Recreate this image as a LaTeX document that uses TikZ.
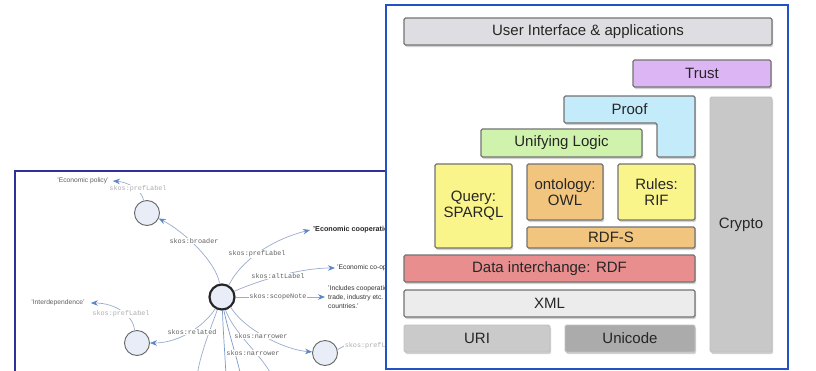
\documentclass[tikz,border=0pt]{standalone}
\usepackage{fontspec}
\setmainfont{Liberation Sans}
\setmonofont{Liberation Mono}
\usetikzlibrary{arrows.meta,shadows}

% palette
\definecolor{panelA}{HTML}{30309A}
\definecolor{panelB}{HTML}{2352C4}
\definecolor{edgecol}{HTML}{9AACCC}
\definecolor{edgeblue}{HTML}{7E9ACB}
\definecolor{tipcol}{HTML}{5B87C9}
\definecolor{nodefill}{HTML}{E8EDF8}
\definecolor{lblcol}{HTML}{606060}
\definecolor{lbllight}{HTML}{ADADAD}
\definecolor{txtcol}{HTML}{262626}
\definecolor{uicol}{HTML}{DEDDE2}
\definecolor{trustcol}{HTML}{DCB6F4}
\definecolor{proofcol}{HTML}{C3EBFA}
\definecolor{logiccol}{HTML}{CFF3AD}
\definecolor{yellowcol}{HTML}{FAF58A}
\definecolor{orangecol}{HTML}{F2C57E}
\definecolor{rdfcol}{HTML}{E88E8E}
\definecolor{xmlcol}{HTML}{ECECEC}
\definecolor{uricol}{HTML}{CACACA}
\definecolor{unicol}{HTML}{ABABAB}
\definecolor{cryptocol}{HTML}{C8C8C8}

\tikzset{
  concept/.style={circle, minimum size=25pt, inner sep=0pt, fill=nodefill, draw=black!60, line width=0.9pt},
  focus/.style={concept, draw=black!85, line width=2.2pt},
  edge/.style={draw=edgecol, line width=0.7pt},
  arr/.style={edge, -{Stealth[length=7pt,width=5.5pt,color=tipcol]}},
  rel/.style={font=\ttfamily\fontsize{6.8}{7}\selectfont, text=lblcol, fill=white, inner sep=0.6pt},
  rellight/.style={rel, text=lbllight},
  lit/.style={font=\fontsize{6.7}{8}\selectfont, text=lblcol, inner sep=0pt},
  layer/.style={draw=black!55, line width=1.2pt, rounded corners=1.5pt, text=txtcol,
    font=\fontsize{15}{16}\selectfont, align=center, inner sep=0pt,
    drop shadow={shadow xshift=1.2pt, shadow yshift=-2pt, opacity=.35}},
  softlayer/.style={layer, draw=black!25, line width=0.8pt}
}

\begin{document}
\begin{tikzpicture}[x=1pt,y=-1pt]
\useasboundingbox (0,0) rectangle (816,370);

% ---------------- SKOS concept graph ----------------
\begin{scope}
\clip (0,0) rectangle (816,370);
\fill[white] (15,171) rectangle (600,400);

\node[focus]   (c)  at (222,297) {};
\node[concept] (p1) at (147,213) {};
\node[concept] (p2) at (137,343) {};
\node[concept] (p3) at (325,353) {};

\node[lit] (t0) at (83,181) {'Economic policy'};
\node[lit] (t4) at (58,303) {'Interdependence'};
\node[lit, anchor=west, font=\bfseries\fontsize{7.2}{8}\selectfont, text=black!85] (t1) at (313,230) {'Economic cooperation'};
\node[lit, anchor=west, text=black!80] (t2) at (337,268) {'Economic co-operation'};
\node[lit, anchor=west, align=left, text=black!80, font=\fontsize{6.7}{9}\selectfont] (t3) at (328,297) {'Includes cooperation in\\trade, industry etc. between\\countries.'};

\coordinate (d1) at (197,376);
\coordinate (d2) at (226,376);
\coordinate (d3) at (241,376);
\coordinate (d4) at (272,376);

% connectors
\draw[arr] (c.100) .. controls (216,262) and (185,232) .. (p1.-25);
\draw[arr] (c.60) .. controls (240,262) and (270,240) .. ([xshift=-3pt]t1.west);
\draw[arr] (c.25) .. controls (260,280) and (300,268) .. ([xshift=-2pt]t2.west);
\draw[arr] (c.east) -- ([xshift=-3pt]t3.west);
\draw[arr] (c.240) .. controls (205,325) and (180,343) .. (p2.east);
\draw[arr] (c.-50) .. controls (245,330) and (285,350) .. (p3.175);
\draw[arr] (p1.105) .. controls (142,190) and (128,182) .. ([xshift=4pt]t0.east);
\draw[arr] (p2.100) .. controls (133,315) and (115,303) .. ([xshift=6pt]t4.east);
\draw[edge] (c.-75) .. controls (235,335) and (262,355) .. (d4);
\draw[edge] (c.-110) .. controls (210,330) and (200,355) .. (d1);
\draw[edge, draw=edgeblue] (c.-88) .. controls (223,330) and (225,355) .. (d2);
\draw[edge, draw=edgeblue] (c.-82) .. controls (228,330) and (236,355) .. (d3);

% edge labels
\node[rel] (lb1) at (194,241) {skos:broader};
\node[rel] (lb2) at (257,254) {skos:prefLabel};
\node[rel] (lb3) at (278,276) {skos:altLabel};
\node[rel] (lb4) at (278,297) {skos:scopeNote};
\node[rel] (lb5) at (192,332) {skos:related};
\node[rel] (lb6) at (261,336) {skos:narrower};
\node[rel] (lb7) at (253,353) {skos:narrower};
\node[rellight] (lb8) at (138,189) {skos:prefLabel};
\node[rellight] (lb9) at (121,314) {skos:prefLabel};
\node[rellight, anchor=west] (lb10) at (344,346) {skos:prefLabel};
\draw[edge] (p3.15) -- (lb10.west);

\draw[panelA, line width=2pt] (15,400) -- (15,171) -- (600,171);
\end{scope}

% ---------------- Semantic Web layer stack ----------------
\draw[panelB, line width=2pt, fill=white] (386,5) rectangle (788,369);

\node[layer, fill=uicol, minimum width=368pt, minimum height=27pt] (ui) at (588,31.5) {User Interface \& applications};
\node[layer, fill=trustcol, minimum width=138pt, minimum height=27pt] (trust) at (702,73.5) {Trust};

\filldraw[layer, fill=proofcol] (564,96) -- (695,96) -- (695,157) -- (657,157) -- (657,123) -- (564,123) -- cycle;
\node[text=txtcol, font=\fontsize{15}{16}\selectfont] (proof) at (629.5,109.5) {Proof};

\node[softlayer, fill=cryptocol, minimum width=62pt, minimum height=255pt] (crypto) at (741,224.5) {Crypto};
\node[layer, fill=logiccol, minimum width=161pt, minimum height=28pt] (logic) at (561.5,143) {Unifying Logic};
\node[layer, fill=yellowcol, minimum width=77pt, minimum height=84pt] (query) at (473.5,206) {Query:\\SPARQL};
\node[layer, fill=orangecol, minimum width=76pt, minimum height=56pt] (owl) at (565,192) {ontology:\\OWL};
\node[layer, fill=yellowcol, minimum width=77pt, minimum height=56pt] (rif) at (656.5,192) {Rules:\\RIF};
\node[layer, fill=orangecol, minimum width=168pt, minimum height=21pt] (rdfs) at (611,237.5) {RDF-S};
\node[layer, fill=rdfcol, minimum width=291pt, minimum height=27pt] (rdf) at (549.5,268.5) {Data interchange: RDF};
\node[layer, fill=xmlcol, minimum width=291pt, minimum height=27pt] (xml) at (549.5,303.5) {XML};
\node[softlayer, fill=uricol, minimum width=146pt, minimum height=27pt] (uri) at (477,338.5) {URI};
\node[softlayer, fill=unicol, minimum width=130pt, minimum height=27pt] (unicode) at (630,338.5) {Unicode};
\end{tikzpicture}
\end{document}
